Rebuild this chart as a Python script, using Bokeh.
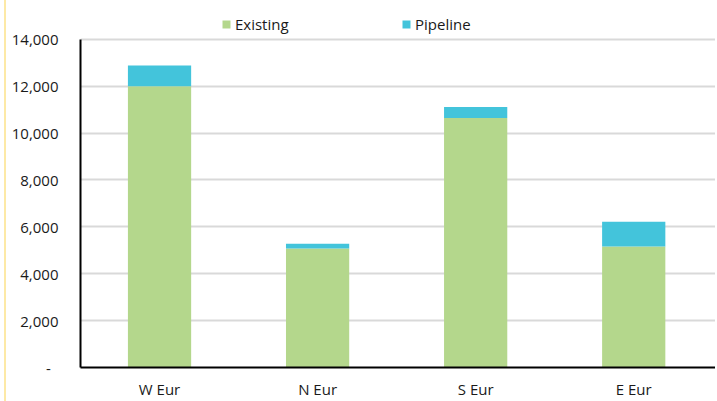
from bokeh.plotting import figure
from bokeh.models import Range1d, FixedTicker, Legend, LegendItem
from bokeh.embed import file_html
from bokeh.resources import INLINE

# Capacity by region: existing vs. pipeline
regions = ["W Eur", "N Eur", "S Eur", "E Eur"]
existing = [12000, 5080, 10640, 5160]
pipeline = [880, 200, 470, 1060]

y_ticks = [0, 2000, 4000, 6000, 8000, 10000, 12000, 14000]
y_tick_labels = ["-\u00a0\u00a0", "2,000", "4,000", "6,000", "8,000", "10,000", "12,000", "14,000"]

GREEN = "#B4D78C"
BLUE = "#43C4DB"
FONT = "Open Sans"
TEXT = "#1a1a1a"
FONT_SIZE = "15px"

xs = [i + 0.5 for i in range(len(regions))]
tops = [e + p for e, p in zip(existing, pipeline)]

# Frame spans the full height so the legend row can sit inside it;
# the value axis itself stops at 14,000.
Y_MAX = 14000
y_end = Y_MAX * 369 / 330

p = figure(width=711, height=401, output_backend="svg", toolbar_location=None,
           x_range=Range1d(0, 4.03), y_range=Range1d(0, y_end),
           min_border_left=74, min_border_right=0, min_border_top=0, min_border_bottom=32)
p.outline_line_color = None
p.background_fill_color = "white"
p.border_fill_color = "white"
p.styles = {"margin-left": "4px", "border-left": "2px solid #FDE9A6"}

r_exist = p.vbar(x=xs, bottom=0, top=existing, width=0.4, fill_color=GREEN, line_color=None)
r_pipe = p.vbar(x=xs, bottom=existing, top=tops, width=0.4, fill_color=BLUE, line_color=None)

# Axes
p.xaxis.ticker = FixedTicker(ticks=xs)
p.xaxis.major_label_overrides = {x: r for x, r in zip(xs, regions)}
p.yaxis.ticker = FixedTicker(ticks=y_ticks)
p.yaxis.major_label_overrides = {t: l for t, l in zip(y_ticks, y_tick_labels)}
p.yaxis.bounds = (0, Y_MAX)
for ax in (p.xaxis, p.yaxis):
    ax.axis_line_color = "black"
    ax.axis_line_width = 2
    ax.major_tick_line_color = None
    ax.minor_tick_line_color = None
    ax.major_tick_out = 0
    ax.major_tick_in = 0
    ax.major_label_text_font = FONT
    ax.major_label_text_font_size = FONT_SIZE
    ax.major_label_text_color = TEXT
p.yaxis.major_label_standoff = 22
p.xaxis.major_label_standoff = 11

p.xgrid.grid_line_color = None
p.ygrid.grid_line_color = "#D9D9D9"
p.ygrid.grid_line_width = 2

# Legend entries in the row above the bars
for label, rend, xloc in (("Existing", r_exist, 141), ("Pipeline", r_pipe, 321)):
    lg = Legend(items=[LegendItem(label=label, renderers=[rend])],
                location=(xloc, 333), orientation="horizontal",
                border_line_color=None, background_fill_alpha=0,
                padding=0, margin=0, spacing=0,
                glyph_width=10, glyph_height=10, label_height=10,
                label_standoff=4,
                label_text_font=FONT, label_text_font_size=FONT_SIZE,
                label_text_color=TEXT)
    p.add_layout(lg, "center")

open("out.html", "w").write(file_html(p, INLINE))
